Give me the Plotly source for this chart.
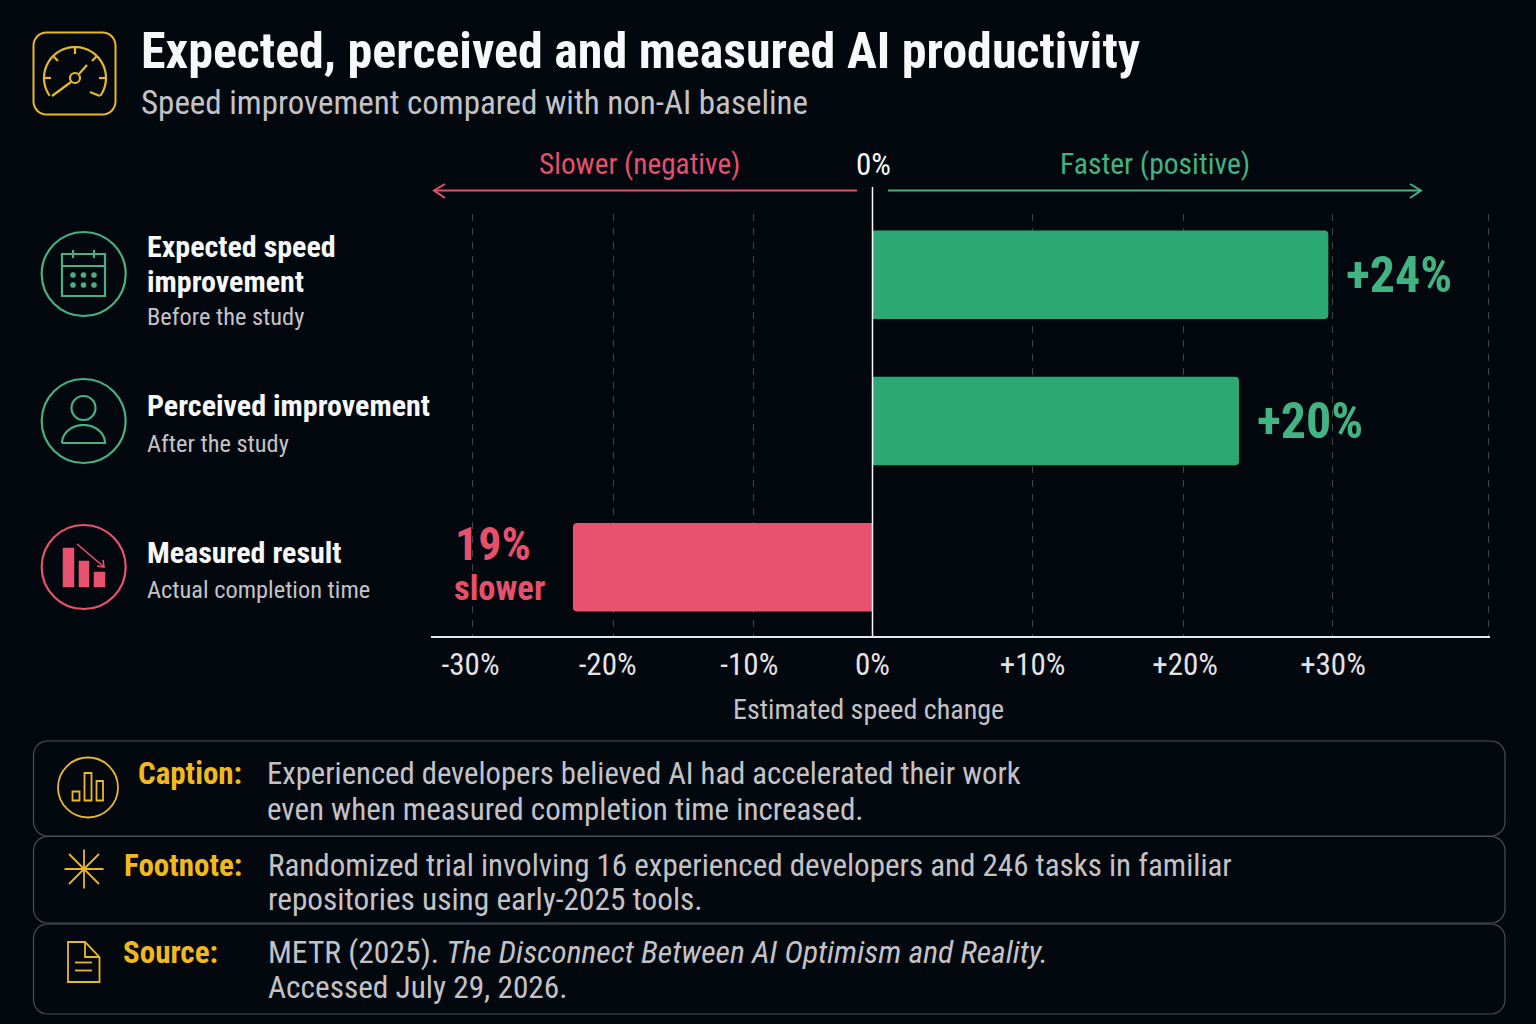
import numpy as np
import plotly.graph_objects as go

W, H = 1536, 1024
BG = "#03080e"
GREEN = "#2ca874"
GREEN_TXT = "#42b382"
GREEN_LINE = "#48b082"
RED = "#e9526f"
RED_TXT = "#e5506c"
YELLOW = "#f0b91e"
YELLOW_LINE = "#e8b82c"
WHITE = "#f7f8f9"
GREY = "#c3c3c7"
FONT = "Roboto Condensed, Roboto, sans-serif"

categories = ["Expected speed improvement", "Perceived improvement", "Measured result"]
# bar ends as drawn in the picture, read against the +10/+20/+30 gridlines
# (the picture does not draw them to the scale of their +24/+20/-19 labels)
bar_ends = [29.6, 23.8, -19.45]
bar_colors = [GREEN, GREEN, RED]
bar_labels = ["+24%", "+20%"]

tick_positions = [-26.1, -17.2, -8.0, 0, 10.4, 20.3, 29.9]
tick_labels = ["-30%", "-20%", "-10%", "0%", "+10%", "+20%", "+30%"]
# plotly drops a gridline within 1px of the axis end, so the last one stays just inside
grid_positions = [-26.0, -16.8, -7.7, 10.4, 20.2, 29.9, 40.02]

PX_PER_UNIT = 15.4
X0 = 872.5
AXIS_L, AXIS_R = 431, 1490
PLOT_T, PLOT_B = 214, 636
ROW_PX = 146.25
ROW0 = 274.8


def px(x):
    return x / W


def py(y):
    return 1 - y / H


def path(points, close=False):
    s = "M " + " L ".join(f"{px(x):.5f},{py(y):.5f}" for x, y in points)
    return s + (" Z" if close else "")


def rounded(x0, y0, x1, y1, r):
    pts = []
    for cx, cy, a0 in [(x1 - r, y0 + r, -90), (x1 - r, y1 - r, 0), (x0 + r, y1 - r, 90), (x0 + r, y0 + r, 180)]:
        for a in np.radians(np.linspace(a0, a0 + 90, 9)):
            pts.append((cx + r * np.cos(a), cy + r * np.sin(a)))
    return path(pts, True)


def arc(cx, cy, rx, ry, a0, a1, n=40):
    ang = np.radians(np.linspace(a0, a1, n))
    return [(cx + rx * np.cos(a), cy + ry * np.sin(a)) for a in ang]


shapes = []


def line_path(points, color, width=2.2, close=False, fill=None):
    shapes.append(dict(type="path", xref="paper", yref="paper", path=path(points, close),
                       line=dict(color=color, width=width), fillcolor=fill))


def circle(cx, cy, r, color, width=2.2, fill=None):
    shapes.append(dict(type="circle", xref="paper", yref="paper", x0=px(cx - r), x1=px(cx + r),
                       y0=py(cy - r), y1=py(cy + r), line=dict(color=color, width=width), fillcolor=fill))


def box(x0, y0, x1, y1, r, color, width=1.2):
    shapes.append(dict(type="path", xref="paper", yref="paper", path=rounded(x0, y0, x1, y1, r),
                       line=dict(color=color, width=width)))


def rect(x0, y0, x1, y1, color, width=2.2, fill=None):
    line_path([(x0, y0), (x1, y0), (x1, y1), (x0, y1)], color, width, True, fill)


annotations = []


def txt(x, y, text, size, color, bold=False, anchor="left"):
    annotations.append(dict(xref="paper", yref="paper", x=px(x), y=py(y), text=f"<b>{text}</b>" if bold else text,
                            showarrow=False, xanchor=anchor, yanchor="middle", align=anchor,
                            font=dict(family=FONT, size=size, color=color), borderpad=0, borderwidth=0))


# header
box(33.5, 32.5, 115.5, 114.5, 13, YELLOW_LINE, 2)
line_path(arc(75, 78, 31, 31, 145, 395), YELLOW_LINE, 2.2)
line_path([(52, 96), (71, 82)], YELLOW_LINE, 2.2)
line_path([(79, 74), (87, 65)], YELLOW_LINE, 2.2)
line_path([(90, 92), (100, 96)], YELLOW_LINE, 2.2)
circle(75, 78, 5, YELLOW_LINE, 2.2)
for a in [180, 225, 270, 315, 360]:
    ca, sa = np.cos(np.radians(a)), np.sin(np.radians(a))
    line_path([(75 + 31 * ca, 78 + 31 * sa), (75 + 24 * ca, 78 + 24 * sa)], YELLOW_LINE, 2.2)

txt(141, 51, "Expected, perceived and measured AI productivity", 50, WHITE, True)
txt(141, 102, "Speed improvement compared with non-AI baseline", 33, GREY)

# direction arrows above the chart
txt(639, 164, "Slower (negative)", 29.3, RED_TXT, anchor="center")
txt(873, 164, "0%", 31, WHITE, anchor="center")
txt(1155, 164, "Faster (positive)", 29.6, GREEN_TXT, anchor="center")
line_path([(434, 190.5), (857, 190.5)], RED_TXT, 2)
line_path([(445, 184), (434, 190.5), (445, 198)], RED_TXT, 2)
line_path([(888, 190.5), (1421, 190.5)], GREEN_LINE, 2)
line_path([(1410, 184), (1421, 190.5), (1410, 198)], GREEN_LINE, 2)

# row icons
circle(83.7, 274, 42, GREEN_LINE)
rect(62, 254, 105, 296, GREEN_LINE)
line_path([(62, 266), (105, 266)], GREEN_LINE)
line_path([(73, 250), (73, 258)], GREEN_LINE)
line_path([(94, 250), (94, 258)], GREEN_LINE)
for dy in [275, 285]:
    for dx in [73, 83.5, 94]:
        circle(dx, dy, 2.6, GREEN_LINE, 0.5, GREEN_LINE)

circle(83.7, 421, 42, GREEN_LINE)
circle(83.5, 408, 12, GREEN_LINE)
line_path(arc(83.5, 443, 21.5, 18, 180, 360) + [(62, 443)], GREEN_LINE)

circle(83.7, 567, 42, RED)
rect(63, 548, 74, 587, RED, 0.5, RED)
rect(79, 561, 89, 587, RED, 0.5, RED)
rect(94, 572, 105, 587, RED, 0.5, RED)
line_path([(77, 544), (104, 567)], RED, 1.6)
line_path([(97, 566), (104, 567), (103, 560)], RED, 1.6)

# row labels
txt(147, 246, "Expected speed", 30, WHITE, True)
txt(147, 281, "improvement", 30, WHITE, True)
txt(147, 316.5, "Before the study", 24.4, GREY)
txt(147, 405, "Perceived improvement", 30, WHITE, True)
txt(147, 443, "After the study", 24.4, GREY)
txt(147, 552, "Measured result", 30, WHITE, True)
txt(147, 589, "Actual completion time", 24.4, GREY)

# bar value labels
for i, label in enumerate(bar_labels):
    annotations.append(dict(xref="x", yref="y", x=bar_ends[i], y=categories[i], text=f"<b>{label}</b>",
                            showarrow=False, xanchor="left", xshift=16,
                            font=dict(family=FONT, size=50, color=GREEN_TXT)))
txt(455, 544, "19%", 46, RED_TXT, True)
txt(454, 588, "slower", 34.5, RED_TXT, True)
txt(868, 709, "Estimated speed change", 28, GREY, anchor="center")

# bottom panels
PANEL = "#4b5058"
box(33.5, 741, 1505, 836, 14, PANEL)
box(33.5, 836.5, 1505, 923, 14, PANEL)
box(33.5, 924, 1505, 1014, 14, PANEL)

circle(88, 787.5, 30, YELLOW_LINE, 1.8)
rect(72.5, 791.5, 79.5, 800.5, YELLOW_LINE, 1.8)
rect(84.5, 773, 91.5, 800.5, YELLOW_LINE, 1.8)
rect(96.5, 781, 103, 800.5, YELLOW_LINE, 1.8)

for dx, dy in [(0, 19.5), (19.5, 0), (15, 15), (15, -15)]:
    line_path([(84 - dx, 869 - dy), (84 + dx, 869 + dy)], YELLOW_LINE, 1.8)
circle(84, 869, 2, YELLOW_LINE, 0.5, YELLOW_LINE)

line_path([(68, 942), (85, 942), (99.5, 957), (99.5, 982), (68, 982)], YELLOW_LINE, 1.8, True)
line_path([(85, 942), (85, 957), (99.5, 957)], YELLOW_LINE, 1.8)
line_path([(75, 962.5), (92, 962.5)], YELLOW_LINE, 1.8)
line_path([(75, 970.5), (92, 970.5)], YELLOW_LINE, 1.8)

txt(242, 773, "Caption:", 31, YELLOW, True, "right")
txt(242, 865, "Footnote:", 31, YELLOW, True, "right")
txt(123, 952, "Source:", 31, YELLOW, True)

txt(267, 773, "Experienced developers believed AI had accelerated their work", 30.7, GREY)
txt(267, 809, "even when measured completion time increased.", 31, GREY)
txt(268, 865, "Randomized trial involving 16 experienced developers and 246 tasks in familiar", 31, GREY)
txt(268, 899, "repositories using early-2025 tools.", 31.3, GREY)
txt(268, 952, "METR (2025). <i>The Disconnect Between AI Optimism and Reality.</i>", 31.6, GREY)
txt(268, 987, "Accessed July 29, 2026.", 31.3, GREY)

# zero line runs above the plot area up to the arrows
shapes.append(dict(type="line", xref="x", yref="paper", x0=0, x1=0, y0=py(636), y1=py(187),
                   line=dict(color=WHITE, width=1.5), layer="above"))

fig = go.Figure()
fig.add_trace(go.Bar(x=bar_ends, y=categories, orientation="h", width=88.5 / ROW_PX,
                     marker=dict(color=bar_colors, cornerradius=4, line=dict(width=0)),
                     hoverinfo="skip", showlegend=False))
# only here to carry the dashed gridlines, which sit slightly off the tick labels
fig.add_trace(go.Scatter(x=grid_positions, y=[categories[0]] * len(grid_positions), xaxis="x2", mode="none",
                         hoverinfo="skip", showlegend=False))

x_range = [(AXIS_L - X0) / PX_PER_UNIT, (AXIS_R - X0) / PX_PER_UNIT]
fig.update_layout(
    width=W, height=H,
    margin=dict(l=0, r=0, t=0, b=0),
    paper_bgcolor=BG, plot_bgcolor=BG,
    showlegend=False,
    xaxis=dict(domain=[px(AXIS_L), px(AXIS_R)], range=x_range, tickmode="array", tickvals=tick_positions,
               ticktext=tick_labels, showgrid=False, zeroline=False, showline=True, linecolor="#e8e8ea", linewidth=1.5,
               ticks="", tickfont=dict(family=FONT, size=31, color="#e3e3e6")),
    xaxis2=dict(domain=[px(AXIS_L), px(AXIS_R)], range=x_range, overlaying="x", anchor="y", tickmode="array",
                tickvals=grid_positions, showticklabels=False, showgrid=True, gridcolor="#40454c", gridwidth=1,
                griddash="7px,7px", zeroline=False, showline=False),
    yaxis=dict(domain=[py(PLOT_B), py(PLOT_T)],
               range=[2 + (PLOT_B - (ROW0 + 2 * ROW_PX)) / ROW_PX, (PLOT_T - ROW0) / ROW_PX],
               type="category", categoryorder="array", categoryarray=categories,
               showticklabels=False, showgrid=False, zeroline=False, showline=False),
    shapes=shapes,
    annotations=annotations,
)

fig.write_html("out.html", config={"displayModeBar": False},
               post_script="document.body.style.margin='0';document.body.style.background='%s';" % BG)
